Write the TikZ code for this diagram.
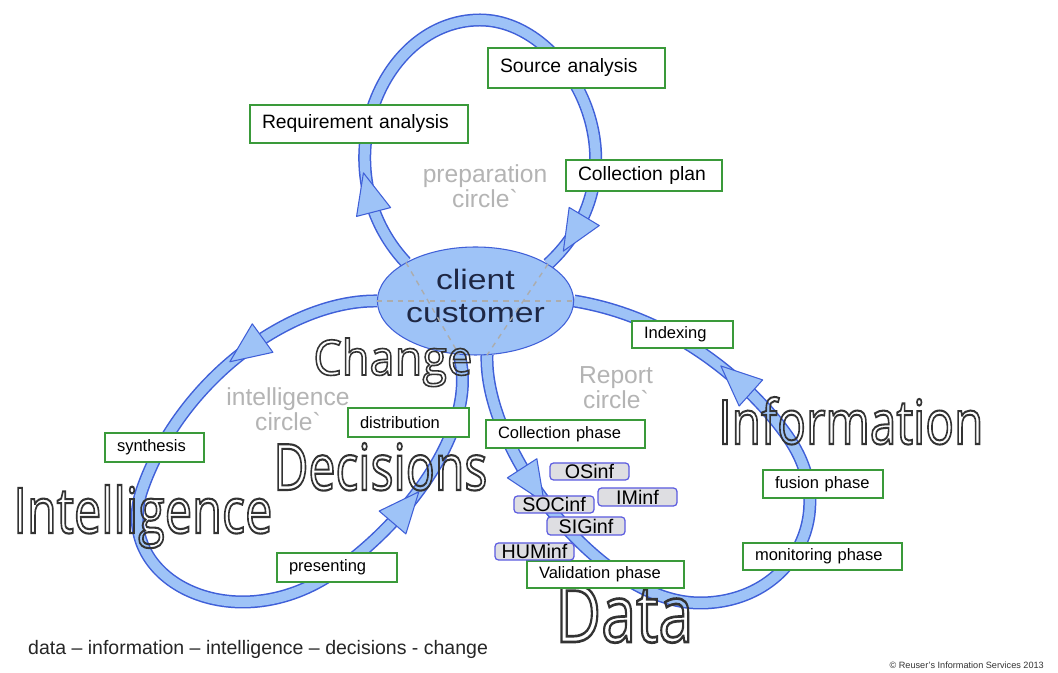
\documentclass[tikz,border=0pt]{standalone}
\usepackage{fontspec}
\setmainfont{Liberation Sans}
\newfontfamily\wordfont{Open Sans}
\usepackage{graphicx}
\usetikzlibrary{shapes.geometric,decorations.markings,backgrounds}
\definecolor{bandfill}{HTML}{9EC3F7}
\definecolor{bandline}{HTML}{3F5FD8}
\definecolor{boxgreen}{HTML}{3A9A3A}
\definecolor{infline}{HTML}{5B5BE0}
\definecolor{inffill}{HTML}{DEDEE2}
\definecolor{circlegray}{HTML}{B4B4B4}
\definecolor{clienttext}{HTML}{1E2744}
% hollow lettering for the five big words (stroke only, text render mode 1)
\newcommand{\hollow}[1]{\special{pdf:literal direct q 1 Tr 1.0 w 0.2 G}#1\special{pdf:literal direct Q}}
\newcommand{\bigword}[3]{\resizebox{#1}{#2}{\wordfont\fontsize{30}{30}\selectfont\hollow{#3}}}
% arrow head sitting on a band
\newcommand{\headtri}{\filldraw[draw=bandline, fill=bandfill, line width=0.6pt, line join=round]
  (14pt,0) -- (-9pt,10pt) -- (-9pt,-10pt) -- cycle;}

\begin{document}
\begin{tikzpicture}[
  band/.style={draw=bandline, line width=0.26cm, postaction={draw=bandfill, line width=0.2cm}},
  heads/.style 2 args={postaction={decorate, decoration={markings,
      mark=at position #1 with {\headtri}, mark=at position #2 with {\headtri}}}},
  phase/.style={draw=boxgreen, fill=white, line width=0.7pt, inner xsep=0.24cm, inner ysep=0pt,
    align=left, font=\fontsize{9.4}{11}\selectfont},
  bigphase/.style={phase, font=\fontsize{11}{13}\selectfont},
  source/.style={draw=infline, fill=inffill, rounded corners=2pt, line width=0.7pt, inner sep=0pt,
    font=\fontsize{11.2}{12}\selectfont},
  loopname/.style={text=circlegray, align=center, font=\fontsize{14}{13}\selectfont},
  crossing/.style={gray!65, dashed, line width=0.8pt}]
\useasboundingbox (0,0) rectangle (21.16,13.46);
% client in the middle
\node[ellipse, draw=bandline, fill=bandfill, line width=0.6pt, minimum width=3.9cm, minimum height=2.16cm,
  inner sep=0pt, align=center, text=clienttext, text depth=0.2cm, font=\fontsize{16}{19}\selectfont]
  (client) at (9.51,7.44) {\scalebox{1.2}[1]{client}\\\scalebox{1.2}[1]{customer}};
\draw[crossing] (client.151) -- (client.253);
\draw[crossing] (client.27) -- (client.282);
\draw[crossing] (client.west) -- (client.east);
% the three circles
\begin{scope}[on background layer]
\fill[white] (0,0) rectangle (21.16,13.46);
\draw[band, heads={0.12}{0.93}] (client.151) .. controls (6.4,10.06) and (7.6,13.06) .. (9.6,13.06)
  .. controls (11.4,13.06) and (13.0,10.06) .. (client.27);
\draw[band, heads={0.16}{0.8}] (client.west) .. controls (5.8,7.46) and (3.6,5.86) .. (2.84,3.66)
  .. controls (2.24,1.9) and (4.6,0.66) .. (6.6,1.96)
  .. controls (8.0,2.86) and (9.6,4.86) .. (client.253);
\draw[band, heads={0.16}{0.78}] (client.282) .. controls (9.68,4.46) and (12.0,1.4) .. (14.0,1.4)
  .. controls (15.8,1.4) and (16.8,3.16) .. (15.8,4.66)
  .. controls (15.3,5.42) and (13.8,7.06) .. (client.east);
\end{scope}
% circle names
\node[loopname] (prep) at (9.7,9.73) {preparation\\circle\textasciigrave};
\node[loopname] (intel) at (5.76,5.27) {intelligence\\circle\textasciigrave};
\node[loopname] (report) at (12.32,5.71) {Report\\circle\textasciigrave};
% big words
\node[anchor=base west, inner sep=0pt] (change) at (6.26,5.96) {\bigword{3.18cm}{0.74cm}{Change}};
\node[anchor=base west, inner sep=0pt] (decisions) at (5.46,3.66) {\bigword{4.28cm}{0.94cm}{Decisions}};
\node[anchor=base west, inner sep=0pt] (intelligence) at (0.26,2.8) {\bigword{5.18cm}{0.96cm}{Intelligence}};
\node[anchor=base west, inner sep=0pt] (information) at (14.36,4.58) {\bigword{5.3cm}{0.94cm}{Information}};
\node[anchor=base west, inner sep=0pt] (data) at (11.1,0.62) {\bigword{2.76cm}{1.14cm}{Data}};
% preparation steps
\node[bigphase, text width=3.06cm, minimum height=0.8cm] (src) at (11.53,12.1) {Source analysis};
\node[bigphase, text width=3.88cm, minimum height=0.76cm] (req) at (7.18,10.98) {Requirement analysis};
\node[bigphase, text width=2.64cm, minimum height=0.62cm] (plan) at (12.88,9.95) {Collection plan};
% intelligence steps
\node[phase, text width=1.94cm, minimum height=0.58cm] (dist) at (8.17,5.01) {distribution};
\node[phase, text width=1.5cm, minimum height=0.58cm] (syn) at (3.09,4.51) {synthesis};
\node[phase, text width=1.92cm, minimum height=0.58cm] (pres) at (6.74,2.11) {presenting};
% report steps
\node[phase, text width=1.54cm, minimum height=0.54cm] (idx) at (13.65,6.77) {Indexing};
\node[phase, text width=2.7cm, minimum height=0.56cm] (coll) at (11.31,4.78) {Collection phase};
\node[phase, text width=1.92cm, minimum height=0.56cm] (fus) at (16.46,3.78) {fusion phase};
\node[phase, text width=2.7cm, minimum height=0.54cm] (mon) at (16.45,2.33) {monitoring phase};
\node[phase, text width=2.66cm, minimum height=0.54cm] (val) at (12.11,1.97) {Validation phase};
% sources
\node[source, minimum width=1.58cm, minimum height=0.34cm] (os) at (11.79,4.03) {OSinf};
\node[source, minimum width=1.58cm, minimum height=0.36cm] (im) at (12.75,3.52) {IMinf};
\node[source, minimum width=1.6cm, minimum height=0.34cm] (soc) at (11.08,3.37) {SOCinf};
\node[source, minimum width=1.56cm, minimum height=0.36cm] (sig) at (11.72,2.94) {SIGinf};
\node[source, minimum width=1.58cm, minimum height=0.34cm] (hum) at (10.69,2.43) {HUMinf};
% footer
\node[anchor=west, font=\fontsize{11.1}{13}\selectfont, text=black!85] (chain) at (0.44,0.48)
  {data – information – intelligence – decisions - change};
\node[anchor=east, font=\fontsize{5.2}{6}\selectfont, text=black!80] (copy) at (21.0,0.16)
  {© Reuser's Information Services 2013};
\end{tikzpicture}
\end{document}
